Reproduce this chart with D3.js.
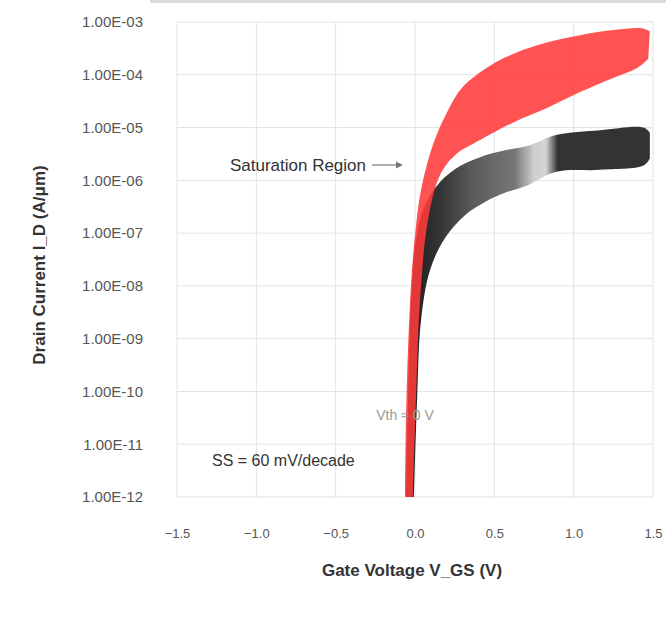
<!DOCTYPE html>
<html>
<head>
<meta charset="utf-8">
<script src="https://cdn.jsdelivr.net/npm/d3@7"></script>
<style>
body { margin: 0; background: #fff; }
text { font-family: "Liberation Sans", Arial, sans-serif; }
</style>
</head>
<body>
<script>
var w = 666;
var h = 621;

// x ticks (gate voltage, V) and y ticks (decades of drain current)
var xTicks = [-1.5, -1.0, -0.5, 0.0, 0.5, 1.0, 1.5];
var yTicks = [1e-12, 1e-11, 1e-10, 1e-9, 1e-8, 1e-7, 1e-6, 1e-5, 1e-4, 1e-3];

// red band, upper and lower edge
var redUpperV = [-0.063, -0.057, -0.044, -0.025, 0.0, 0.038, 0.113, 0.202, 0.302, 0.473, 0.630, 0.819, 1.040, 1.261, 1.430, 1.480];
var redUpperI = [1.0e-12, 2.9e-11, 6.2e-10, 1.05e-8, 9.1e-8, 6.6e-7, 4.7e-6, 1.95e-5, 5.9e-5, 1.48e-4, 2.57e-4, 3.98e-4, 5.6e-4, 7.1e-4, 7.6e-4, 6.6e-4];
var redLowerV = [-0.013, 0.006, 0.032, 0.082, 0.158, 0.252, 0.410, 0.630, 0.832, 1.040, 1.248, 1.400, 1.470];
var redLowerI = [1.0e-12, 6.9e-11, 5.4e-9, 1.78e-7, 1.26e-6, 3.0e-6, 5.8e-6, 1.29e-5, 2.34e-5, 4.7e-5, 8.7e-5, 1.35e-4, 2.0e-4];

// black band, upper and lower edge
var blackUpperV = [-0.057, -0.044, -0.025, 0.006, 0.063, 0.158, 0.284, 0.410, 0.567, 0.712, 0.889, 1.166, 1.440, 1.480];
var blackUpperI = [1.0e-12, 6.9e-11, 5.4e-9, 7.4e-8, 3.4e-7, 9.3e-7, 1.86e-6, 2.75e-6, 3.7e-6, 4.5e-6, 7.2e-6, 8.9e-6, 1.0e-5, 8.0e-6];
var blackLowerV = [-0.006, 0.013, 0.038, 0.095, 0.189, 0.315, 0.441, 0.567, 0.712, 0.889, 1.166, 1.440, 1.480];
var blackLowerI = [1.0e-12, 6.9e-11, 2.24e-9, 2.0e-8, 8.1e-8, 2.19e-7, 3.9e-7, 5.8e-7, 8.1e-7, 1.45e-6, 1.58e-6, 1.9e-6, 2.6e-6];

var pLeft = 177, pRight = 653, pTop = 22, pBottom = 497;

var x = d3.scaleLinear().domain([-1.5, 1.5]).range([pLeft, pRight]);
var y = d3.scaleLog().domain([1e-12, 1e-3]).range([pBottom, pTop]);

var svg = d3.select("body")
            .append("svg")
            .attr("width", w)
            .attr("height", h);

svg.append("line") //thin border strip at the very top
   .attr("x1", 150).attr("x2", w).attr("y1", 1.5).attr("y2", 1.5)
   .attr("stroke", "#ddd").attr("stroke-width", 3);

// grid
svg.append("g").selectAll("line")
   .data(xTicks).enter().append("line")
   .attr("x1", d => x(d)).attr("x2", d => x(d))
   .attr("y1", pTop).attr("y2", pBottom)
   .attr("stroke", "#e3e3e3");
svg.append("g").selectAll("line")
   .data(yTicks).enter().append("line")
   .attr("x1", pLeft).attr("x2", pRight)
   .attr("y1", d => y(d)).attr("y2", d => y(d))
   .attr("stroke", "#e3e3e3");

// axes (labels only, no domain line)
var fmt = function(d){
    var e = Math.round(Math.log10(d));
    return "1.00E" + (e < 0 ? "-" : "+") + String(Math.abs(e)).padStart(2, "0");
};
var yAxis = svg.append("g")
   .attr("transform", "translate(" + pLeft + ",0)")
   .call(d3.axisLeft(y).tickValues(yTicks).tickFormat(fmt).tickSize(0).tickPadding(34));
var xAxis = svg.append("g")
   .attr("transform", "translate(0," + pBottom + ")")
   .call(d3.axisBottom(x).tickValues(xTicks).tickFormat(d3.format(".1f")).tickSize(0).tickPadding(32));
yAxis.select(".domain").remove();
xAxis.select(".domain").remove();
yAxis.selectAll("text").attr("fill", "#555").style("font-size", "15px");
xAxis.selectAll("text").attr("fill", "#555").style("font-size", "13px");

// band shapes: upper edge forward, lower edge back
var line = d3.line().x(d => x(d[0])).y(d => y(d[1])).curve(d3.curveCatmullRom);
function band(uv, ui, lv, li){
    var up = uv.map((v, i) => [v, ui[i]]);
    var lo = lv.map((v, i) => [v, li[i]]).reverse();
    return line(up) + "L" + line(lo).slice(1) + "Z";
}

var grad = svg.append("defs").append("linearGradient")
   .attr("id", "blk").attr("gradientUnits", "userSpaceOnUse")
   .attr("x1", x(0)).attr("x2", x(1.5)).attr("y1", 0).attr("y2", 0);
[[0, "#222"], [0.1, "#333"], [0.25, "#5c5c5c"], [0.42, "#777"], [0.5, "#cfcfcf"], [0.55, "#d4d4d4"], [0.6, "#333"], [1, "#333"]]
   .forEach(function(s){
       grad.append("stop").attr("offset", s[0]).attr("stop-color", s[1]);
   });

svg.append("path")
   .attr("d", band(blackUpperV, blackUpperI, blackLowerV, blackLowerI))
   .attr("fill", "url(#blk)");

svg.append("path")
   .attr("d", band(redUpperV, redUpperI, redLowerV, redLowerI))
   .attr("fill", "#ff3b3b")
   .attr("fill-opacity", 0.88);

// annotations
svg.append("text")
   .attr("x", 366).attr("y", 171)
   .attr("text-anchor", "end")
   .attr("fill", "#333")
   .style("font-size", "17px")
   .text("Saturation Region");
svg.append("line")
   .attr("x1", 372).attr("x2", 400).attr("y1", 165).attr("y2", 165)
   .attr("stroke", "#777").attr("stroke-width", 1.2);
svg.append("path")
   .attr("d", "M403,165 l-7,-3.5 l0,7 z").attr("fill", "#777");

svg.append("text")
   .attr("x", 212).attr("y", 466)
   .attr("fill", "#333")
   .style("font-size", "16px")
   .text("SS = 60 mV/decade");

svg.append("text")
   .attr("x", 405).attr("y", 420)
   .attr("text-anchor", "middle")
   .attr("fill", "#999")
   .style("font-size", "14px")
   .text("Vth ≈ 0 V");

// axis titles
svg.append("text")
   .attr("transform", "translate(45,265) rotate(-90)")
   .attr("text-anchor", "middle")
   .attr("fill", "#333")
   .style("font-size", "17px")
   .style("font-weight", "bold")
   .text("Drain Current I_D (A/μm)");

svg.append("text")
   .attr("x", 412).attr("y", 576)
   .attr("text-anchor", "middle")
   .attr("fill", "#333")
   .style("font-size", "17px")
   .style("font-weight", "bold")
   .text("Gate Voltage V_GS (V)");
</script>
</body>
</html>
